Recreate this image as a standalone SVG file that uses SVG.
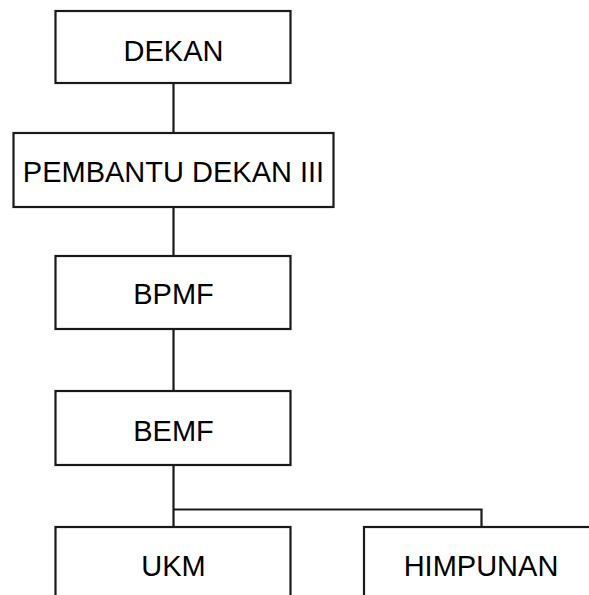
<svg xmlns="http://www.w3.org/2000/svg" width="589" height="595" viewBox="0 0 589 595">
  <style>
    .box { fill: #ffffff; stroke: #1a1a1a; stroke-width: 2.2; }
    .lbl { font-family: "Liberation Sans", Arial, sans-serif; font-size: 29px; fill: #000000; text-anchor: middle; }
    .link { fill: none; stroke: #1a1a1a; stroke-width: 2.2; }
  </style>
  <rect width="589" height="595" fill="#ffffff"/>

  <!-- connectors -->
  <g id="connectors">
    <path class="link" d="M173.5 83 V133"/>
    <path class="link" d="M173.5 207 V256"/>
    <path class="link" d="M173.5 329 V391"/>
    <path class="link" d="M173.5 465 V527"/>
    <path class="link" d="M173.5 509.5 H481.5 V527"/>
  </g>

  <g id="dekan">
    <rect class="box" x="55.5" y="11" width="235" height="72"/>
    <text class="lbl" x="173.5" y="60.5">DEKAN</text>
  </g>

  <g id="pembantu-dekan-iii">
    <rect class="box" x="13.5" y="133" width="320" height="74"/>
    <text class="lbl" x="173.5" y="182">PEMBANTU DEKAN III</text>
  </g>

  <g id="bpmf">
    <rect class="box" x="55.5" y="256" width="235" height="73"/>
    <text class="lbl" x="173.5" y="303.5">BPMF</text>
  </g>

  <g id="bemf">
    <rect class="box" x="55.5" y="391" width="235" height="74"/>
    <text class="lbl" x="173.5" y="440.5">BEMF</text>
  </g>

  <g id="ukm">
    <rect class="box" x="55.5" y="527" width="235" height="80"/>
    <text class="lbl" x="173.5" y="575.5">UKM</text>
  </g>

  <g id="himpunan">
    <rect class="box" x="364" y="527" width="235" height="80"/>
    <text class="lbl" x="481" y="575.5">HIMPUNAN</text>
  </g>
</svg>
